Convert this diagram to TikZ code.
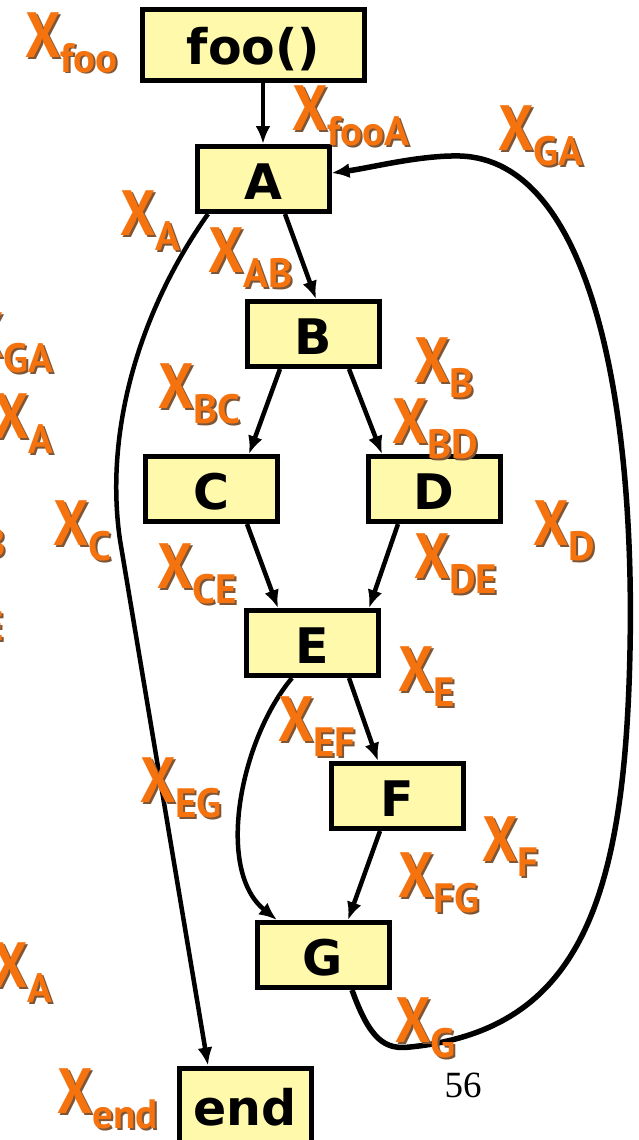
\documentclass[tikz,border=0pt]{standalone}
\usepackage{fontspec}
\usetikzlibrary{arrows.meta}
\newfontfamily\boxfont{DejaVu Sans}
\newfontfamily\lblfont{PT Sans}[FakeStretch=0.87]
\newfontfamily\subfont{PT Sans}
\newfontfamily\numfont{Liberation Serif}
\definecolor{XOrange}{RGB}{245,115,15}
\definecolor{XShadow}{RGB}{125,85,55}
\definecolor{BoxYellow}{RGB}{255,249,172}
\newcommand{\xbody}[1]{X\raisebox{-15pt}{\subfont\bfseries\fontsize{41}{44}\selectfont #1}}
\newcommand{\xlab}[1]{\rlap{\kern2pt\raisebox{-2pt}{\color{XShadow}\xbody{#1}}}\xbody{#1}}

\begin{document}
\begin{tikzpicture}[x=1pt,y=-1pt,
                blk/.style={draw,line width=5pt,fill=BoxYellow,minimum width=132pt,minimum height=65pt,
                    inner sep=0pt,font=\boxfont\bfseries\fontsize{49}{52}\selectfont,text height=40pt,text depth=0pt},
                lbl/.style={inner sep=0pt,text=XOrange,font=\lblfont\bfseries\fontsize{64}{70}\selectfont},
                edge/.style={line width=4.5pt,-{Latex[length=18pt,width=15pt]}}
            ]
                \useasboundingbox (0,0) rectangle (639,1140);
                \clip (0,0) rectangle (639,1140);
                % Blocks
                \node[blk,minimum width=222pt,minimum height=71pt] (foo) at (253.5,45) {foo()};
                \foreach \n/\x/\y in {A/263/179,B/313/334,C/211/489,D/434/489,E/312/643,F/397/796,G/323/955} {
                    \node[blk] (\n) at (\x,\y) {\n};
                }
                \node[blk,minimum height=74pt] (end) at (245,1105) {end};
                % Flow edges
                \draw[edge] (foo.south -| A.north) -- (A.north);
                \draw[edge] ([xshift=22]A.south) -- ([xshift=3]B.north);
                \draw[edge] ([xshift=-33]B.south) -- ([xshift=38]C.north);
                \draw[edge] ([xshift=36]B.south) -- ([xshift=-52]D.north);
                \draw[edge] ([xshift=36]C.south) -- ([xshift=-34]E.north);
                \draw[edge] ([xshift=-36]D.south) -- ([xshift=57]E.north);
                \draw[edge] ([xshift=37]E.south) -- ([xshift=-19]F.north);
                \draw[edge] ([xshift=-20]E.south) .. controls (240,740) and (215,870) .. ([xshift=-46]G.north);
                \draw[edge] ([xshift=-17]F.south) -- ([xshift=25]G.north);
                \draw[edge] ([xshift=-55]A.south) .. controls (140,310) and (104,430) .. (120,540) -- ([xshift=-37]end.north);
                % Back edge G -> A
                \draw[edge,line width=5.5pt] ([xshift=29]G.south) .. controls (370,1040) and (385,1050) .. (410,1047)
                    .. controls (580,1030) and (625,900) .. (630,650)
                    .. controls (635,400) and (590,160) .. (460,156)
                    .. controls (420,155) and (370,168) .. ([yshift=6]A.east);
                % Edge and block labels
                \foreach \m/\s/\x/\y in {xfoo/foo/25/57,xfooA/fooA/292/130,xGA/GA/498/150,xA/A/120/235,
                    xAB/AB/208/272,xBC/BC/158/408,xB/B/414/382,xBD/BD/392/443,xC/C/53/545,xD/D/533/545,
                    xCE/CE/157/588,xDE/DE/414/578,xE/E/398/691,xEF/EF/278/741,xEG/EG/140/802,xF/F/482/861,
                    xFG/FG/398/897,xG/G/395/1042,xend/end/57/1113,
                    pGA/GA/-32/357,pA/A/-7/438,pAtwo/A/-8/987} {
                    \node[lbl,anchor=base west] (\m) at (\x,\y) {\xlab{\s}};
                }
                % Cut labels at the left border
                \node[lbl,anchor=base east] (pAB) at (6,542) {\xlab{AB}};
                \node[lbl,anchor=base east] (pCE) at (4,625) {\xlab{CE}};
                % Page number
                \node[inner sep=0pt,font=\numfont\fontsize{37}{40}\selectfont] (pgnum) at (463,1085) {56};
            \end{tikzpicture}
\end{document}
